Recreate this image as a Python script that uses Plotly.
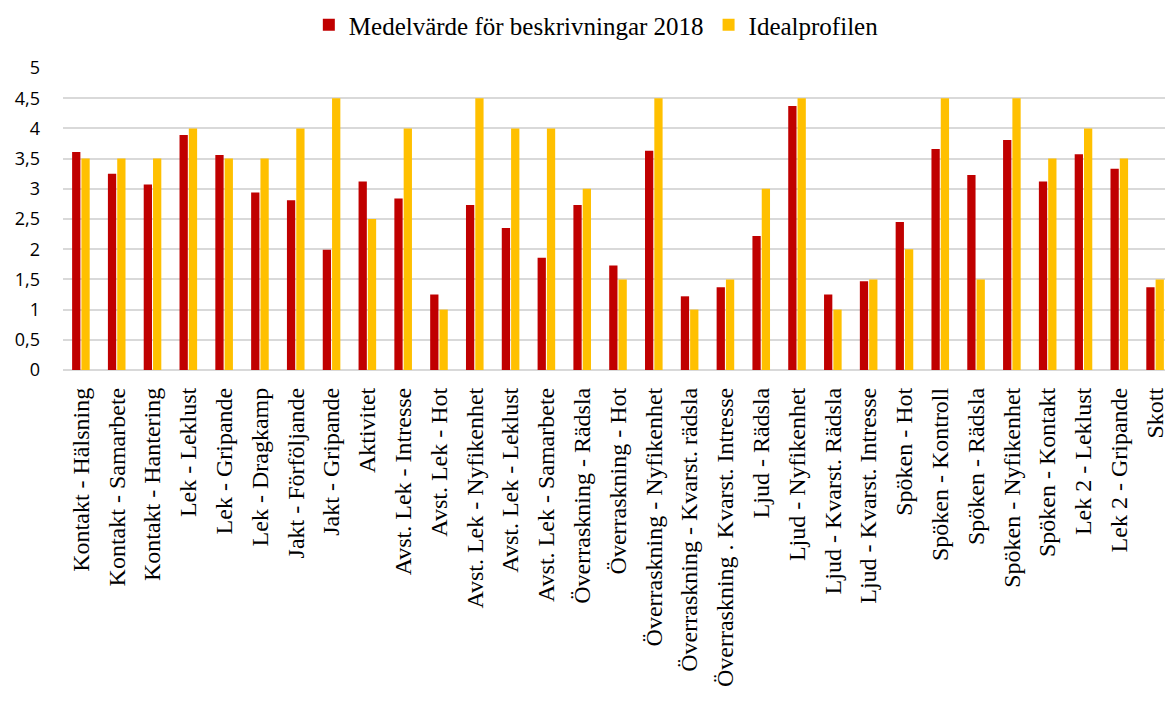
import plotly.graph_objects as go

categories = [
    "Kontakt - Hälsning", "Kontakt - Samarbete", "Kontakt - Hantering",
    "Lek - Leklust", "Lek - Gripande", "Lek - Dragkamp",
    "Jakt - Förföljande", "Jakt - Gripande", "Aktivitet",
    "Avst. Lek - Intresse", "Avst. Lek - Hot", "Avst. Lek - Nyfikenhet",
    "Avst. Lek - Leklust", "Avst. Lek - Samarbete", "Överraskning - Rädsla",
    "Överraskning - Hot", "Överraskning - Nyfikenhet", "Överraskning - Kvarst. rädsla",
    "Överraskning . Kvarst. Intresse", "Ljud - Rädsla", "Ljud - Nyfikenhet",
    "Ljud - Kvarst. Rädsla", "Ljud - Kvarst. Intresse", "Spöken - Hot",
    "Spöken - Kontroll", "Spöken - Rädsla", "Spöken - Nyfikenhet",
    "Spöken - Kontakt", "Lek 2 - Leklust", "Lek 2 - Gripande", "Skott",
]

medel_2018 = [3.61, 3.25, 3.07, 3.89, 3.56, 2.94, 2.81, 1.99, 3.12,
              2.84, 1.25, 2.73, 2.35, 1.86, 2.73, 1.73, 3.63, 1.22,
              1.37, 2.22, 4.37, 1.25, 1.47, 2.45, 3.66, 3.23, 3.81,
              3.12, 3.57, 3.33, 1.37]

idealprofil = [3.5, 3.5, 3.5, 4.0, 3.5, 3.5, 4.0, 4.5, 2.5,
               4.0, 1.0, 4.5, 4.0, 4.0, 3.0, 1.5, 4.5, 1.0,
               1.5, 3.0, 4.5, 1.0, 1.5, 2.0, 4.5, 1.5, 4.5,
               3.5, 4.0, 3.5, 1.5]

y_ticks = [0, 0.5, 1, 1.5, 2, 2.5, 3, 3.5, 4, 4.5, 5]

fig = go.Figure()
fig.add_trace(go.Bar(x=categories, y=medel_2018, name="Medelvärde för beskrivningar 2018",
                     marker=dict(color="#C00000", line=dict(width=0))))
fig.add_trace(go.Bar(x=categories, y=idealprofil, name="Idealprofilen",
                     marker=dict(color="#FFC000", line=dict(width=0))))

# page body has an 8px margin, so the figure is sized/offset to compensate
fig.update_layout(
    width=1165, height=696,
    margin=dict(l=55, r=0, t=60, b=334, autoexpand=False),
    paper_bgcolor="white", plot_bgcolor="white",
    barmode="group", bargap=0.48, bargroupgap=0.11,
    separators=", ",
    showlegend=True,
    legend=dict(orientation="h", xref="container", x=0.505, xanchor="center",
                yref="paper", y=1.142, yanchor="middle",
                bgcolor="rgba(0,0,0,0)",
                font=dict(family="Liberation Serif", size=25, color="black"),
                traceorder="normal", itemwidth=30),
    font=dict(family="Liberation Serif", color="black"),
)

fig.update_xaxes(tickangle=-90, tickfont=dict(family="Liberation Serif", size=24, color="black"),
                 showline=False, ticks="", showgrid=False, ticklabelstandoff=12,
                 automargin=False)
fig.update_yaxes(range=[0, 5], tickvals=y_ticks,
                 tickfont=dict(family="Open Sans", size=18, color="black"),
                 showgrid=True, gridcolor="#D9D9D9", gridwidth=1.5,
                 zeroline=True, zerolinecolor="#D9D9D9", zerolinewidth=1.5,
                 showline=False, ticks="", ticklabelstandoff=22, automargin=False)

fig.write_html("out.html")
